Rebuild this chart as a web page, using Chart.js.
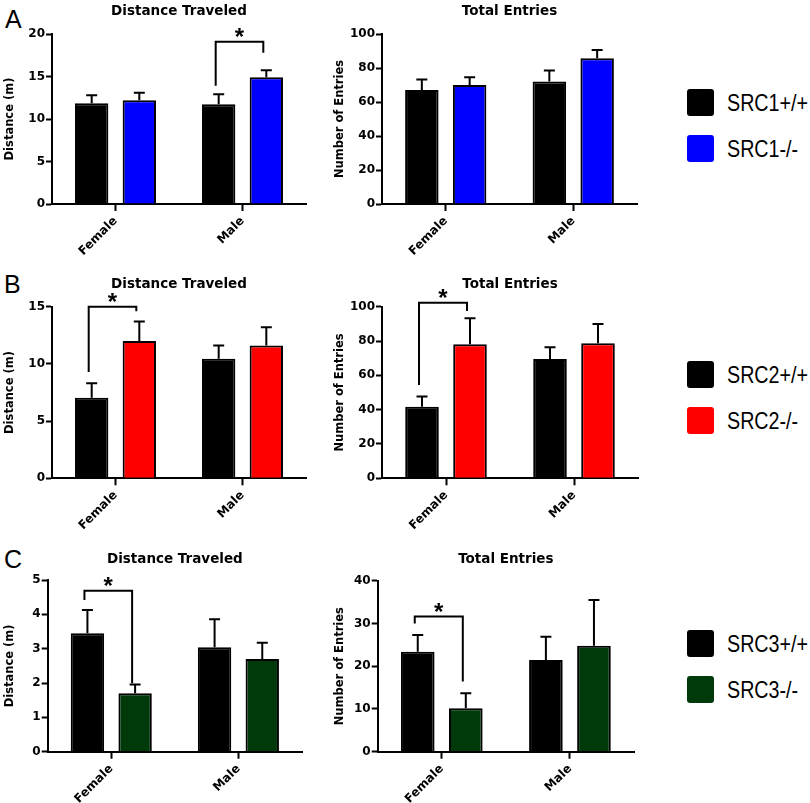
<!DOCTYPE html>
<html>
<head>
<meta charset="utf-8">
<script src="https://cdn.jsdelivr.net/npm/chart.js@4/dist/chart.umd.min.js"></script>
<style>
  body { margin: 0; background: #fff; width: 810px; height: 803px; position: relative; overflow: hidden; }
  canvas { position: absolute; }
  .letter { position: absolute; font: 25px/25px 'Liberation Sans', Arial, sans-serif; color: #000; }
  .key { position: absolute; left: 687px; display: flex; align-items: center; height: 27px; }
  .key i { display: block; width: 27px; height: 27px; border-radius: 3px; margin-right: 13px; }
  .key span { font: 24px/27px 'Liberation Sans', Arial, sans-serif; color: #000; transform: scaleX(0.82); transform-origin: left center; white-space: nowrap; }
</style>
</head>
<body>
<div class="letter" style="left:5px;top:7px">A</div>
<div class="letter" style="left:4px;top:272px">B</div>
<div class="letter" style="left:4px;top:547px">C</div>

<canvas id="aDist" width="320" height="260" style="left:0;top:0"></canvas>
<canvas id="aEntr" width="320" height="260" style="left:330px;top:0"></canvas>
<canvas id="bDist" width="320" height="270" style="left:0;top:260px"></canvas>
<canvas id="bEntr" width="320" height="270" style="left:330px;top:260px"></canvas>
<canvas id="cDist" width="320" height="273" style="left:0;top:530px"></canvas>
<canvas id="cEntr" width="320" height="273" style="left:330px;top:530px"></canvas>

<div id="keys"></div>

<script>
const categories = ['Female', 'Male']

// SRC1 (A)
const src1DistWt = [11.85, 11.75]
const src1DistWtSem = [0.95, 1.15]
const src1DistKo = [12.2, 14.9]
const src1DistKoSem = [0.9, 0.85]
const src1EntrWt = [67, 72]
const src1EntrWtSem = [6.3, 6.6]
const src1EntrKo = [70, 85.7]
const src1EntrKoSem = [4.5, 4.9]

// SRC2 (B)
const src2DistWt = [7.05, 10.45]
const src2DistWtSem = [1.25, 1.15]
const src2DistKo = [12.0, 11.6]
const src2DistKoSem = [1.7, 1.6]
const src2EntrWt = [41.7, 69.5]
const src2EntrWtSem = [5.9, 6.8]
const src2EntrKo = [78.1, 78.7]
const src2EntrKoSem = [15.1, 11.2]

// SRC3 (C)
const src3DistWt = [3.45, 3.04]
const src3DistWtSem = [0.68, 0.82]
const src3DistKo = [1.70, 2.70]
const src3DistKoSem = [0.26, 0.47]
const src3EntrWt = [23.4, 21.45]
const src3EntrWtSem = [3.9, 5.45]
const src3EntrKo = [10.15, 24.8]
const src3EntrKoSem = [3.5, 10.7]

// significance brackets: category index, bracket top, left leg end, right leg end (axis units)
const sigA1 = [1, 19.1, 13.9, 17.8]
const sigB1 = [0, 15.0, 9.3, 14.6]
const sigB2 = [0, 102.3, 54.4, 97.5]
const sigC1 = [0, 4.69, 4.42, 1.99]
const sigC2 = [0, 31.6, 30.0, 16.4]

const src1Keys = ['SRC1+/+', 'SRC1-/-']
const src2Keys = ['SRC2+/+', 'SRC2-/-']
const src3Keys = ['SRC3+/+', 'SRC3-/-']

const WT = '#000000'
const KO1 = '#0000ff'
const KO2 = '#ff0000'
const KO3 = '#003a0a'

Chart.defaults.font.family = "'DejaVu Sans', sans-serif"
Chart.defaults.color = '#000'

const errorBars = {
  id: 'errorBars',
  afterDatasetsDraw (chart) {
    const ctx = chart.ctx
    const y = chart.scales.y
    ctx.save()
    ctx.strokeStyle = '#000'
    ctx.lineWidth = 2
    chart.data.datasets.forEach((ds, di) => {
      chart.getDatasetMeta(di).data.forEach((bar, i) => {
        const top = y.getPixelForValue(ds.data[i] + ds.sem[i])
        ctx.beginPath()
        ctx.moveTo(bar.x, bar.y)
        ctx.lineTo(bar.x, top)
        ctx.moveTo(bar.x - 5.5, top)
        ctx.lineTo(bar.x + 5.5, top)
        ctx.stroke()
      })
    })
    ctx.restore()
  }
}

const sigBracket = {
  id: 'sigBracket',
  afterDatasetsDraw (chart, args, opts) {
    const s = opts.value
    if (!s) return
    const ctx = chart.ctx
    const y = chart.scales.y
    const xl = chart.getDatasetMeta(0).data[s[0]].x - 3
    const xr = chart.getDatasetMeta(1).data[s[0]].x - 3
    const yt = y.getPixelForValue(s[1])
    ctx.save()
    ctx.strokeStyle = '#000'
    ctx.lineWidth = 2
    ctx.beginPath()
    ctx.moveTo(xl, y.getPixelForValue(s[2]))
    ctx.lineTo(xl, yt)
    ctx.lineTo(xr, yt)
    ctx.lineTo(xr, y.getPixelForValue(s[3]))
    ctx.stroke()
    ctx.fillStyle = '#000'
    ctx.font = "bold 24px 'Liberation Sans', Arial, sans-serif"
    ctx.textAlign = 'center'
    ctx.textBaseline = 'alphabetic'
    ctx.fillText('*', (xl + xr) / 2, yt + 3)
    ctx.restore()
  }
}

const panelTitle = {
  id: 'panelTitle',
  afterDraw (chart, args, opts) {
    const ctx = chart.ctx
    const a = chart.chartArea
    ctx.save()
    ctx.fillStyle = '#000'
    ctx.font = "bold 13.5px 'DejaVu Sans', sans-serif"
    ctx.textAlign = 'center'
    ctx.textBaseline = 'alphabetic'
    ctx.fillText(opts.text, (a.left + a.right) / 2, opts.baseline)
    ctx.restore()
  }
}

function panel (id, o) {
  const cv = document.getElementById(id)
  new Chart(cv, {
    type: 'bar',
    data: {
      labels: categories,
      datasets: [
        { data: o.wt, sem: o.wtSem, backgroundColor: WT, borderColor: '#000', borderWidth: 2 },
        { data: o.ko, sem: o.koSem, backgroundColor: o.color, borderColor: '#000', borderWidth: 2 }
      ]
    },
    options: {
      responsive: false,
      animation: false,
      events: [],
      layout: { padding: { left: 0, top: o.top, right: cv.width - o.right, bottom: 0 } },
      datasets: { bar: { categoryPercentage: 0.75, barPercentage: 0.7 } },
      plugins: {
        legend: { display: false },
        tooltip: { enabled: false },
        panelTitle: { text: o.title, baseline: o.titleY },
        sigBracket: { value: o.sig }
      },
      scales: {
        x: {
          grid: { offset: false, drawOnChartArea: false, tickLength: 7, tickWidth: 2, tickColor: '#000' },
          border: { color: '#000', width: 2 },
          ticks: { font: { size: 12, weight: 'bold' }, minRotation: 45, maxRotation: 45, padding: 3 },
          afterFit: s => { s.height = cv.height - o.bottom }
        },
        y: {
          min: 0,
          max: o.max,
          ticks: { stepSize: o.step, font: { size: 12, weight: 'bold' }, padding: 1 },
          grid: { drawOnChartArea: false, tickLength: 6, tickWidth: 2, tickColor: '#000' },
          border: { color: '#000', width: 2 },
          title: { display: true, text: o.yTitle, font: { size: 11.5, weight: 'bold' }, padding: { top: 3, bottom: 0 } },
          afterFit: s => { s.width = o.left }
        }
      }
    },
    plugins: [errorBars, sigBracket, panelTitle]
  })
}

panel('aDist', { wt: src1DistWt, wtSem: src1DistWtSem, ko: src1DistKo, koSem: src1DistKoSem, color: KO1,
  max: 20, step: 5, yTitle: 'Distance (m)', title: 'Distance Traveled', titleY: 15, sig: sigA1,
  left: 52, top: 34, right: 306, bottom: 204 })
panel('aEntr', { wt: src1EntrWt, wtSem: src1EntrWtSem, ko: src1EntrKo, koSem: src1EntrKoSem, color: KO1,
  max: 100, step: 20, yTitle: 'Number of Entries', title: 'Total Entries', titleY: 15, sig: null,
  left: 52, top: 34, right: 307, bottom: 204 })
panel('bDist', { wt: src2DistWt, wtSem: src2DistWtSem, ko: src2DistKo, koSem: src2DistKoSem, color: KO2,
  max: 15, step: 5, yTitle: 'Distance (m)', title: 'Distance Traveled', titleY: 28, sig: sigB1,
  left: 52, top: 46.7, right: 306, bottom: 218.3 })
panel('bEntr', { wt: src2EntrWt, wtSem: src2EntrWtSem, ko: src2EntrKo, koSem: src2EntrKoSem, color: KO2,
  max: 100, step: 20, yTitle: 'Number of Entries', title: 'Total Entries', titleY: 28, sig: sigB2,
  left: 52, top: 46.7, right: 308, bottom: 218.3 })
panel('cDist', { wt: src3DistWt, wtSem: src3DistWtSem, ko: src3DistKo, koSem: src3DistKoSem, color: KO3,
  max: 5, step: 1, yTitle: 'Distance (m)', title: 'Distance Traveled', titleY: 33, sig: sigC1,
  left: 47.7, top: 50, right: 302, bottom: 221.7 })
panel('cEntr', { wt: src3EntrWt, wtSem: src3EntrWtSem, ko: src3EntrKo, koSem: src3EntrKoSem, color: KO3,
  max: 40, step: 10, yTitle: 'Number of Entries', title: 'Total Entries', titleY: 33, sig: sigC2,
  left: 47.7, top: 50.7, right: 304, bottom: 221.7 })

// legends
const keys = document.getElementById('keys')
;[[src1Keys, KO1, 89], [src2Keys, KO2, 361], [src3Keys, KO3, 630]].forEach(([names, color, top]) => {
  names.forEach((name, i) => {
    const row = document.createElement('div')
    row.className = 'key'
    row.style.top = (top + i * 46) + 'px'
    row.innerHTML = '<i style="background:' + (i === 0 ? WT : color) + '"></i><span>' + name + '</span>'
    keys.appendChild(row)
  })
})
</script>
</body>
</html>
